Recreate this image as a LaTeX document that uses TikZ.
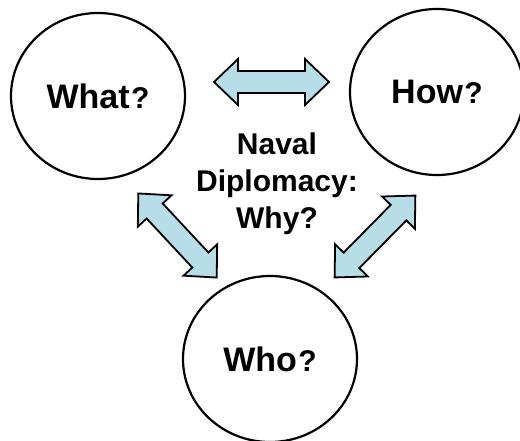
\documentclass[tikz,border=0pt]{standalone}
\usepackage{fontspec}
\setmainfont{Liberation Sans}
\usetikzlibrary{shapes.geometric}
\definecolor{arrowblue}{RGB}{183,221,232}

\tikzset{
  topic/.style={ellipse, draw=black, line width=2.2pt, fill=white,
    minimum width=174pt, minimum height=166pt, inner sep=0pt,
    font=\fontsize{34}{40}\selectfont\bfseries},
  centretext/.style={align=center, inner sep=0pt,
    font=\fontsize{30}{37}\selectfont\bfseries},
  pics/dblarrow/.style={code={
    \draw[draw=black, line width=1.8pt, fill=arrowblue, line join=miter]
      (-57.5,0) -- (-33.5,23) -- (-33.5,11) -- (33.5,11) -- (33.5,23)
      -- (57.5,0) -- (33.5,-23) -- (33.5,-11) -- (-33.5,-11)
      -- (-33.5,-23) -- cycle;
  }}
}
% smaller question mark after each topic word
\newcommand\qmark{{\kern1.5pt\fontsize{30}{37}\selectfont ?}}

\begin{document}
\begin{tikzpicture}[x=1pt, y=-1pt]
  \useasboundingbox (0,0) rectangle (520,441);

  \node[topic] (what) at (98,96)  {What\qmark};
  \node[topic] (how)  at (437,92) {How\qmark};
  \node[topic] (who)  at (270,359) {Who\qmark};

  \node[centretext] (why) at (277,184) {Naval\\Diplomacy:\\Why?};

  \pic (whathow) at (271.5,82) {dblarrow};
  \pic[rotate=-47] (whatwho) at (177.5,235.5) {dblarrow};
  \pic[rotate=45.4] (howwho) at (375,236.5) {dblarrow};
\end{tikzpicture}
\end{document}
